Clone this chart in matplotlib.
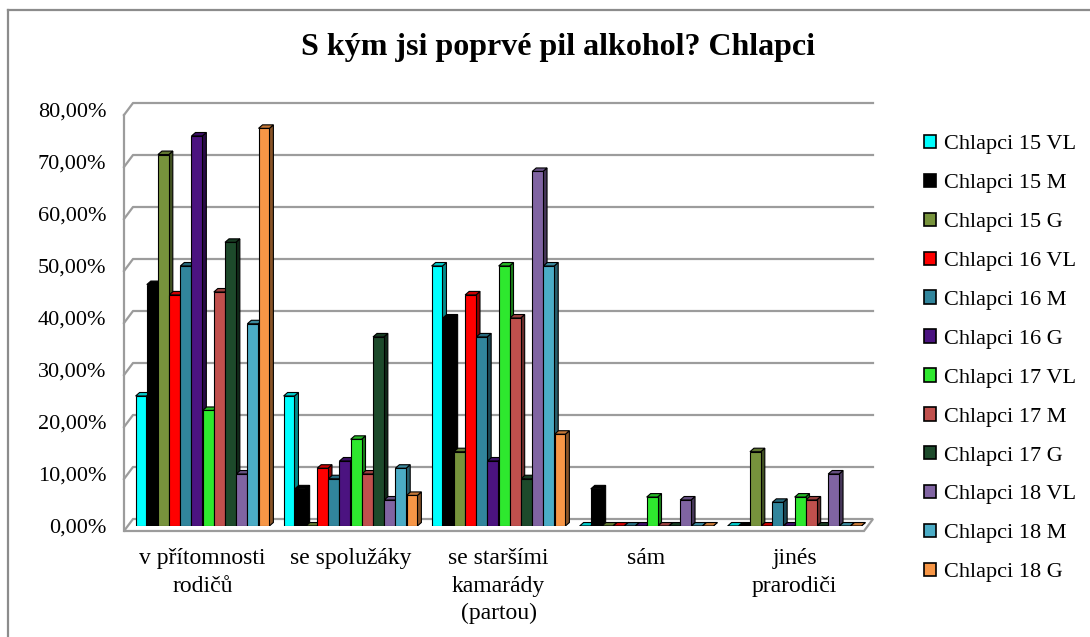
import matplotlib
matplotlib.use('Agg')
import matplotlib.pyplot as plt
import numpy as np
from matplotlib.patches import Patch, Polygon
from matplotlib.lines import Line2D
from matplotlib import colors as mcolors

plt.rcParams['font.family'] = ['Liberation Serif', 'DejaVu Serif']

categories = ['v přítomnosti\nrodičů', 'se spolužáky', 'se staršími\nkamarády\n(partou)',
              'sám', 'jinés\nprarodiči']
series = ['Chlapci 15 VL', 'Chlapci 15 M', 'Chlapci 15 G', 'Chlapci 16 VL',
          'Chlapci 16 M', 'Chlapci 16 G', 'Chlapci 17 VL', 'Chlapci 17 M',
          'Chlapci 17 G', 'Chlapci 18 VL', 'Chlapci 18 M', 'Chlapci 18 G']
c15_vl = [0.25, 0.25, 0.50, 0.0, 0.0]
c15_m = [0.4643, 0.0714, 0.40, 0.0714, 0.0]
c15_g = [0.7143, 0.0, 0.1429, 0.0, 0.1429]
c16_vl = [0.4444, 0.1111, 0.4444, 0.0, 0.0]
c16_m = [0.50, 0.0909, 0.3636, 0.0, 0.0455]
c16_g = [0.75, 0.125, 0.125, 0.0, 0.0]
c17_vl = [0.2222, 0.1667, 0.50, 0.0556, 0.0556]
c17_m = [0.45, 0.10, 0.40, 0.0, 0.05]
c17_g = [0.5455, 0.3636, 0.0909, 0.0, 0.0]
c18_vl = [0.10, 0.05, 0.6818, 0.05, 0.10]
c18_m = [0.3889, 0.1111, 0.50, 0.0, 0.0]
c18_g = [0.7647, 0.0588, 0.1765, 0.0, 0.0]
colors = ['#00FFFF', '#000000', '#77933C', '#FF0000', '#31859C', '#4B1380',
          '#2EE82E', '#C0504D', '#1D4A2B', '#8064A2', '#4BACC6', '#F79646']

data = [c15_vl, c15_m, c15_g, c16_vl, c16_m, c16_g,
        c17_vl, c17_m, c17_g, c18_vl, c18_m, c18_g]


def shade(c, f):
    r, g, b = mcolors.to_rgb(c)
    return (r * f, g * f, b * f)


fig = plt.figure(figsize=(10.9, 6.37), dpi=100)
ax = fig.add_axes([128.5 / 1090, 1 - 526 / 637, 740 / 1090, 416 / 637])
ax.set_xlim(-0.5, 4.5)
ax.set_ylim(0, 0.8)
for s in ax.spines.values():
    s.set_visible(False)

px = 1 / 148          # one pixel in x data units
py = 0.8 / 416        # one pixel in y data units
grid_c = '#9c9c9c'

# walls and floor (pseudo 3D)
fx, fy = -4.5 * px, 5 * py     # front plane offset
bx, by = 4.5 * px, 7 * py      # back plane offset
floor = Polygon([(-0.5 + fx, -fy), (4.5 + fx, -fy), (4.5 + bx, by), (-0.5 + bx, by)],
                closed=True, fc='white', ec=grid_c, lw=1.6, clip_on=False, zorder=1)
ax.add_patch(floor)
ax.plot([-0.5 + fx, -0.5 + fx], [-fy, 0.8 - fy], color=grid_c, lw=1.6, clip_on=False, zorder=1)
for y in np.arange(0.1, 0.81, 0.1):
    ax.plot([-0.5 + fx, -0.5 + bx, 4.5 + bx], [y - fy, y + by, y + by],
            color=grid_c, lw=1.6, clip_on=False, zorder=1)

# bars
slot = 0.0755
w = slot * 0.97
dx, dy = 4 * px, 3.5 * py
xc = np.arange(len(categories))
for i, (vals, c) in enumerate(zip(data, colors)):
    x = xc + (i - 5.5) * slot
    ax.bar(x, vals, width=w, color=c, edgecolor='black', lw=0.8, zorder=3)
    for xi, v in zip(x, vals):
        l, r = xi - w / 2, xi + w / 2
        ax.add_patch(Polygon([(r, 0), (r + dx, dy), (r + dx, v + dy), (r, v)],
                             closed=True, fc=shade(c, 0.55), ec='black', lw=0.8, zorder=2))
        ax.add_patch(Polygon([(l, v), (l + dx, v + dy), (r + dx, v + dy), (r, v)],
                             closed=True, fc=shade(c, 0.8), ec='black', lw=0.8, zorder=2))

ax.set_yticks(np.arange(0, 0.81, 0.1))
ax.set_yticklabels([f'{t * 100:.2f}%'.replace('.', ',') for t in np.arange(0, 0.81, 0.1)],
                   fontsize=16)
ax.set_xticks(xc)
ax.set_xticklabels(categories, fontsize=17, linespacing=1.4)
ax.tick_params(axis='y', length=0, pad=16)
ax.tick_params(axis='x', length=0, pad=16)

handles = [Patch(fc=c, ec='black', lw=1.2) for c in colors]
fig.legend(handles, series, loc='upper left', bbox_to_anchor=(915 / 1090, 1 - 126 / 637),
           frameon=False, fontsize=16, handlelength=0.55, handleheight=0.55,
           handletextpad=0.35, labelspacing=0.87, borderaxespad=0)

fig.text(558 / 1090, 1 - 47 / 637, 'S kým jsi poprvé pil alkohol? Chlapci',
         ha='center', va='center', fontsize=23, weight='bold')

# outer chart border
fig.add_artist(Line2D([8 / 1090, 8 / 1090], [0, 1 - 10 / 637], color='#8c8c8c', lw=1.6))
fig.add_artist(Line2D([8 / 1090, 1], [1 - 10 / 637, 1 - 10 / 637], color='#8c8c8c', lw=1.6))

fig.savefig('out.png', dpi=100)
